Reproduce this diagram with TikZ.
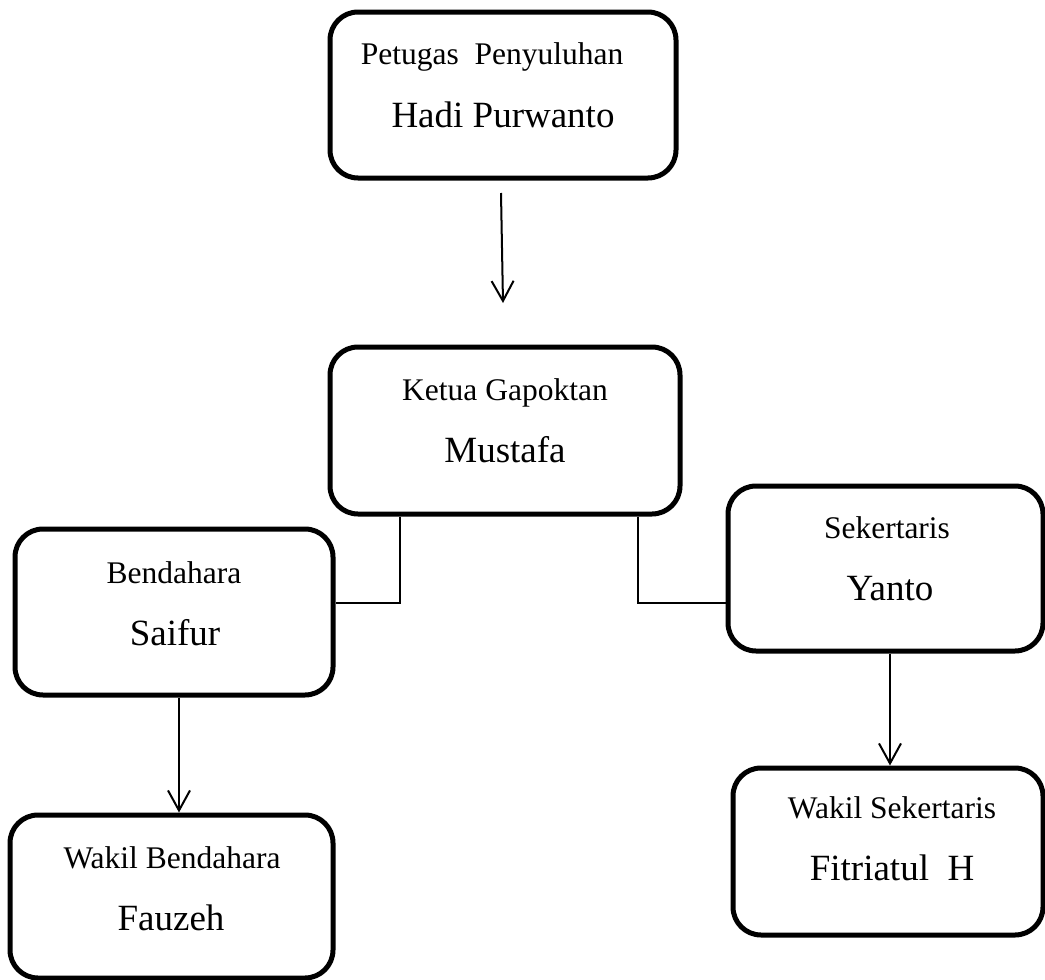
\documentclass[tikz,border=0pt]{standalone}
\usepackage{fontspec}
\setmainfont{Liberation Serif}
\usetikzlibrary{arrows.meta}
\begin{document}
\begin{tikzpicture}[x=1pt,y=-1pt,
  box/.style={draw=black, line width=5pt, rounded corners=28pt, inner sep=0pt},
  conn/.style={draw=black, line width=2pt},
  arr/.style={conn, -{Straight Barb[length=20pt,width=22pt]}},
  lbl/.style={anchor=base, inner sep=0pt, font=\fontsize{31.5}{36}\selectfont},
  nm/.style={anchor=base, inner sep=0pt, font=\fontsize{37}{42}\selectfont}]
\useasboundingbox (0,0) rectangle (1045,980);
% boxes
\node[box, minimum width=346pt, minimum height=166pt] (p) at (503,95) {};
\node[box, minimum width=350pt, minimum height=167pt] (k) at (505,430.5) {};
\node[box, minimum width=318pt, minimum height=166pt] (b) at (174,612) {};
\node[box, minimum width=323pt, minimum height=163pt] (wb) at (171.5,896.5) {};
\node[box, minimum width=315pt, minimum height=165pt] (s) at (885.5,568.5) {};
\node[box, minimum width=310pt, minimum height=167pt] (ws) at (888,851.5) {};
% texts
\node[lbl] (pl) at (492,64) {Petugas\ \ Penyuluhan};
\node[nm]  (pn) at (503,127) {Hadi Purwanto};
\node[lbl] (kl) at (505,400) {Ketua Gapoktan};
\node[nm]  (kn) at (505,462) {Mustafa};
\node[lbl] (bl) at (174,583) {Bendahara};
\node[nm]  (bn) at (175,645) {Saifur};
\node[lbl] (wbl) at (172,868) {Wakil Bendahara};
\node[nm]  (wbn) at (171,930) {Fauzeh};
\node[lbl] (sl) at (887,538) {Sekertaris};
\node[nm]  (sn) at (890,600) {Yanto};
\node[lbl] (wsl) at (892,818) {Wakil Sekertaris};
\node[nm]  (wsn) at (892,880) {Fitriatul\ \ H};
% connectors
\coordinate (a1) at (501,193);
\coordinate (a2) at (503,303);
\draw[arr] (a1) -- (a2);
\draw[conn] ([xshift=-105pt]k.south) |- ([yshift=9pt]b.east);
\draw[conn] ([xshift=133pt]k.south) |- ([yshift=-34.5pt]s.west);
\draw[arr] ([xshift=5pt]b.south) -- ([xshift=7.5pt]wb.north);
\draw[arr] ([xshift=4.5pt]s.south) -- ([xshift=2pt]ws.north);
\end{tikzpicture}
\end{document}
